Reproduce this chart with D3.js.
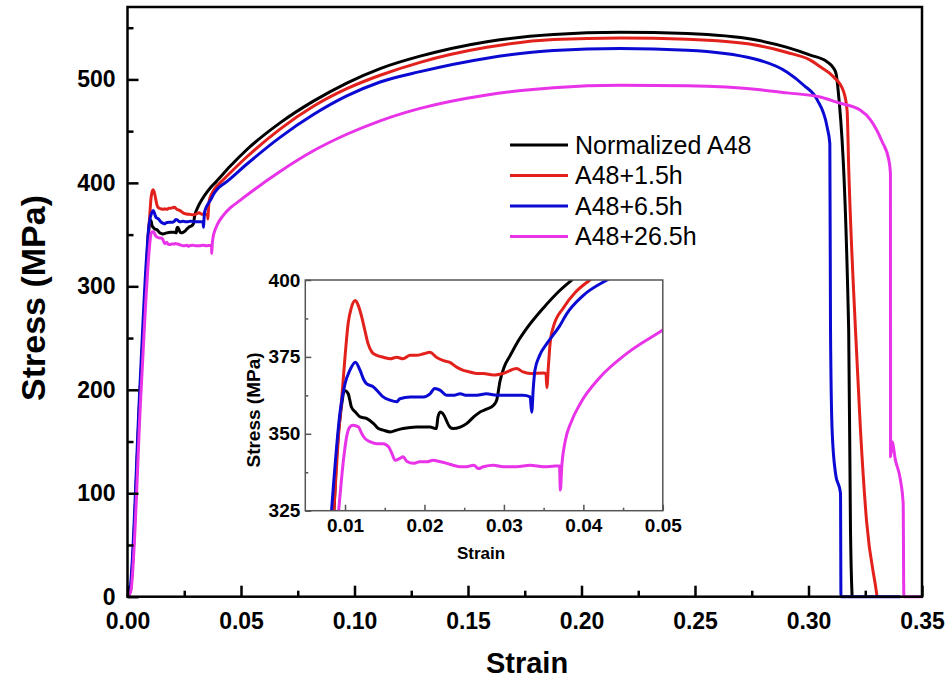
<!DOCTYPE html>
<html lang="en">
<head>
    <meta charset="UTF-8">
    <title>Stress-strain curves</title>
    <script src="https://d3js.org/d3.v7.min.js"></script>
    <style>
    body { margin: 0; background: #fff; }
    svg text { font-family: "Liberation Sans", Arial, sans-serif; }
    </style>
</head>
<body>
    <div id="chart"></div>
    <script>
    // [strain, stress (MPa)]
    var normalized = [[0,0],[0.0012,5],[0.0056,200],[0.0086,325],[0.0090,345],[0.0095,358],[0.0100,364],[0.0104,363],[0.0106,361],
        [0.0108,358.7],[0.0113,357.1],[0.0119,355.5],[0.0127,355],[0.0136,353.3],[0.0142,351.7],[0.0148,351.2],[0.0157,350.6],
        [0.0165,351.2],[0.0173,351.7],[0.0190,352.2],[0.0207,352.2],[0.0215,351.7],[0.0217,355.5],[0.0220,357.1],[0.0223,356.6],
        [0.0232,352.2],[0.0236,351.7],[0.0245,352.2],[0.0253,353.3],[0.0262,355.5],[0.0270,357.1],[0.0278,358],[0.0287,359.3],
        [0.0291,361],[0.0295,367],[0.0300,371.5],[0.0308,375.5],[0.0316,379.3],[0.0328,384],[0.0350,391],[0.0370,396.5],
        [0.0390,401],[0.0452,416],[0.0525,432],[0.0672,458],[0.0819,479],[0.0966,496.5],[0.1113,510.5],[0.1289,522.5],
        [0.1583,536.5],[0.1877,543.5],[0.2171,545.6],[0.2465,544.3],[0.2759,538.5],[0.2906,531],[0.3008,523.5],[0.3082,517],
        [0.3110,511],[0.3122,505],[0.3129,493],[0.3177,258],[0.3185,64],[0.3192,0]];

    var h1_5 = [[0,0],[0.0012,5],[0.0056,200],[0.0086,325],[0.0092,350],[0.0096,362],[0.0100,375],[0.0104,386],[0.0108,391],
        [0.0113,393.3],[0.0117,391.5],[0.0121,388],[0.0125,383.6],[0.0129,379.3],[0.0134,376.5],[0.0140,375.5],[0.0148,374.9],
        [0.0157,374.4],[0.0165,374.9],[0.0173,374.4],[0.0182,375.5],[0.0190,375.5],[0.0199,376],[0.0207,376.5],[0.0215,374.9],
        [0.0224,373.8],[0.0232,373.2],[0.0241,371.6],[0.0249,370.6],[0.0257,370.1],[0.0266,369.6],[0.0274,369.6],[0.0287,369.1],
        [0.0299,369.6],[0.0316,371.2],[0.0324,370.1],[0.0333,369.6],[0.0350,369.8],[0.0353,369.5],[0.0354,365],[0.0356,372],
        [0.0358,379],[0.0362,384.6],[0.0375,391],[0.0390,396],[0.0408,400],[0.0525,425],[0.0672,452],[0.0819,474],[0.0966,491],
        [0.1113,504],[0.1289,516.5],[0.1583,531],[0.1877,538.6],[0.2171,540.1],[0.2465,538.8],[0.2759,533.5],[0.2906,526],
        [0.3008,518.6],[0.3053,512],[0.3111,502.4],[0.3155,488],[0.3170,470],[0.3177,415.5],[0.3207,257.7],[0.3229,161],
        [0.3256,72.5],[0.3299,4.8],[0.3302,0]];

    var h6_5 = [[0,0],[0.0010,5],[0.0054,200],[0.0083,325],[0.0094,357.6],[0.0100,366.3],[0.0106,370.6],[0.0113,373.3],
        [0.0119,370.6],[0.0123,367.9],[0.0127,366.3],[0.0136,365.2],[0.0142,363.6],[0.0148,362],[0.0157,360.9],[0.0165,360.4],
        [0.0169,361.4],[0.0182,362],[0.0190,362],[0.0199,362],[0.0207,363],[0.0213,364.7],[0.0220,364.1],[0.0228,362.5],
        [0.0236,362.5],[0.0245,363],[0.0253,362.5],[0.0266,362.5],[0.0278,363],[0.0291,362.5],[0.0303,362.5],[0.0316,362.5],
        [0.0324,362.5],[0.0333,362],[0.0335,357],[0.0337,365],[0.0339,370.6],[0.0345,375.5],[0.0354,379.3],[0.0370,385],
        [0.0379,389],[0.0400,395],[0.0436,401],[0.0525,418],[0.0672,444],[0.0819,466],[0.0966,484],[0.1113,497.5],[0.1289,507.5],
        [0.1583,520.5],[0.1877,528],[0.2171,529.9],[0.2465,528.2],[0.2759,520],[0.2906,507],[0.2979,494.4],[0.3038,480.4],
        [0.3082,454],[0.3094,438],[0.3097,258],[0.3104,161],[0.3119,119.2],[0.3141,99.9],[0.3143,0],[0.3405,0]];

    var h26_5 = [[0,0],[0.0014,5],[0.0060,200],[0.0092,325],[0.0098,341.4],[0.0102,349],[0.0106,352.2],[0.0110,352.8],
        [0.0117,352.2],[0.0121,350.1],[0.0125,348.5],[0.0132,347.4],[0.0140,346.8],[0.0148,346.8],[0.0155,345.7],[0.0159,343.6],
        [0.0163,341.4],[0.0169,342],[0.0173,342.5],[0.0178,341],[0.0186,340.4],[0.0194,340.9],[0.0203,340.9],[0.0211,341.4],
        [0.0220,340.9],[0.0228,340.4],[0.0236,339.8],[0.0245,339.3],[0.0253,339.3],[0.0262,339.8],[0.0268,338.7],[0.0274,339.3],
        [0.0287,339.8],[0.0299,339.3],[0.0316,339.3],[0.0333,339.8],[0.0350,339.3],[0.0365,339.5],[0.0370,339.5],[0.0371,331.7],
        [0.0373,340],[0.0377,347.4],[0.0385,354],[0.0396,359.8],[0.0421,368.4],[0.0454,376],[0.0499,383.6],[0.0525,388],
        [0.0672,411],[0.0819,431],[0.0966,447],[0.1113,460],[0.1289,472],[0.1583,485],[0.1877,492],[0.2171,494.4],
        [0.2465,493.8],[0.2788,490],[0.2906,487],[0.3052,483],[0.3130,477.5],[0.3229,470.2],[0.3273,461],[0.3324,440],
        [0.3354,422],[0.3361,409],[0.33615,135.3],[0.3368,149.8],[0.3383,132],[0.3405,112.8],[0.3417,90.2],[0.3420,0],[0.3503,0]];

    var seriesNames = ["Normalized A48", "A48+1.5h", "A48+6.5h", "A48+26.5h"];
    var seriesData = [normalized, h1_5, h6_5, h26_5];
    var seriesColors = ["#000000", "#e2211c", "#0a0ad2", "#e833e8"];

    var mainXTicks = [0, 0.05, 0.10, 0.15, 0.20, 0.25, 0.30, 0.35];
    var mainXMinor = [0.025, 0.075, 0.125, 0.175, 0.225, 0.275, 0.325];
    var mainYTicks = [0, 100, 200, 300, 400, 500];
    var mainYMinor = [50, 150, 250, 350, 450, 550];
    var insetXTicks = [0.01, 0.02, 0.03, 0.04, 0.05];
    var insetXMinor = [0.015, 0.025, 0.035, 0.045];
    var insetYTicks = [325, 350, 375, 400];
    var insetYMinor = [337.5, 362.5, 387.5];

    var svg = d3.select("#chart").append("svg")
        .attr("width", 948)
        .attr("height", 684);

    // ---- main plot ----
    var x = d3.scaleLinear().domain([0, 0.35]).range([127.5, 922]);
    var y = d3.scaleLinear().domain([0, 570]).range([596.7, 7]);

    var line = d3.line()
        .x(d => x(d[0]))
        .y(d => y(d[1]))
        .curve(d3.curveMonotoneX);

    svg.append("g")
        .selectAll("path")
        .data(seriesData)
        .enter()
        .append("path")
        .attr("d", line)
        .attr("fill", "none")
        .attr("stroke", (d, i) => seriesColors[i])
        .attr("stroke-width", 3)
        .attr("stroke-linejoin", "round");

    function styleAxis(g, size) {
        g.select(".domain").remove();
        g.selectAll("line").attr("stroke", "#000").attr("stroke-width", 2.5);
        g.selectAll("text")
            .attr("fill", "#000")
            .style("font-size", size + "px")
            .style("font-weight", "bold");
    }

    svg.append("g")
        .attr("transform", "translate(0,596.7)")
        .call(d3.axisBottom(x).tickValues(mainXTicks).tickFormat(d3.format(".2f"))
            .tickSize(-11).tickPadding(16))
        .call(g => styleAxis(g, 23));
    svg.append("g")
        .attr("transform", "translate(0,596.7)")
        .call(d3.axisBottom(x).tickValues(mainXMinor).tickFormat("").tickSize(-6))
        .call(g => styleAxis(g, 23));
    svg.append("g")
        .attr("transform", "translate(127.5,0)")
        .call(d3.axisLeft(y).tickValues(mainYTicks).tickFormat(d3.format("d"))
            .tickSize(-11).tickPadding(12))
        .call(g => styleAxis(g, 23));
    svg.append("g")
        .attr("transform", "translate(127.5,0)")
        .call(d3.axisLeft(y).tickValues(mainYMinor).tickFormat("").tickSize(-6))
        .call(g => styleAxis(g, 23));

    svg.append("rect")
        .attr("x", 127.5).attr("y", 7)
        .attr("width", 922 - 127.5).attr("height", 596.7 - 7)
        .attr("fill", "none")
        .attr("stroke", "#000")
        .attr("stroke-width", 2.5);

    svg.append("text")
        .attr("x", 527).attr("y", 673)
        .attr("text-anchor", "middle")
        .style("font-size", "29px").style("font-weight", "bold")
        .text("Strain");
    svg.append("text")
        .attr("transform", "translate(45,298) rotate(-90)")
        .attr("text-anchor", "middle")
        .style("font-size", "34px").style("font-weight", "bold")
        .text("Stress (MPa)");

    // legend
    var legend = svg.append("g")
        .selectAll("g")
        .data(seriesNames)
        .enter()
        .append("g")
        .attr("transform", (d, i) => "translate(510," + (145 + i * 30.5) + ")");
    legend.append("line")
        .attr("x1", 0).attr("x2", 58)
        .attr("stroke", (d, i) => seriesColors[i])
        .attr("stroke-width", 3);
    legend.append("text")
        .attr("x", 65).attr("y", 8.5)
        .style("font-size", "25px")
        .text(d => d);

    // ---- inset ----
    var xi = d3.scaleLinear().domain([0.005, 0.05]).range([305.3, 662.8]);
    var yi = d3.scaleLinear().domain([325, 400]).range([510.7, 280]);

    svg.append("defs").append("clipPath")
        .attr("id", "insetClip")
        .append("rect")
        .attr("x", 305.3).attr("y", 280)
        .attr("width", 662.8 - 305.3).attr("height", 510.7 - 280);

    svg.append("rect")
        .attr("x", 305.3).attr("y", 280)
        .attr("width", 662.8 - 305.3).attr("height", 510.7 - 280)
        .attr("fill", "#fff");

    var lineInset = d3.line()
        .x(d => xi(d[0]))
        .y(d => yi(d[1]))
        .curve(d3.curveMonotoneX);

    svg.append("g")
        .attr("clip-path", "url(#insetClip)")
        .selectAll("path")
        .data(seriesData)
        .enter()
        .append("path")
        .attr("d", d => lineInset(d.filter(p => p[0] < 0.06)))
        .attr("fill", "none")
        .attr("stroke", (d, i) => seriesColors[i])
        .attr("stroke-width", 3)
        .attr("stroke-linejoin", "round");

    function styleInset(g) {
        g.select(".domain").remove();
        g.selectAll("line").attr("stroke", "#555").attr("stroke-width", 1.5);
        g.selectAll("text")
            .attr("fill", "#000")
            .style("font-size", "19px")
            .style("font-weight", "bold");
    }

    svg.append("g")
        .attr("transform", "translate(0,510.7)")
        .call(d3.axisBottom(xi).tickValues(insetXTicks).tickFormat(d3.format(".2f"))
            .tickSize(-6).tickPadding(8))
        .call(styleInset);
    svg.append("g")
        .attr("transform", "translate(0,510.7)")
        .call(d3.axisBottom(xi).tickValues(insetXMinor).tickFormat("").tickSize(-3))
        .call(styleInset);
    svg.append("g")
        .attr("transform", "translate(305.3,0)")
        .call(d3.axisLeft(yi).tickValues(insetYTicks).tickFormat(d3.format("d"))
            .tickSize(-6).tickPadding(5))
        .call(styleInset);
    svg.append("g")
        .attr("transform", "translate(305.3,0)")
        .call(d3.axisLeft(yi).tickValues(insetYMinor).tickFormat("").tickSize(-3))
        .call(styleInset);

    svg.append("rect")
        .attr("x", 305.3).attr("y", 280)
        .attr("width", 662.8 - 305.3).attr("height", 510.7 - 280)
        .attr("fill", "none")
        .attr("stroke", "#555")
        .attr("stroke-width", 1.5);

    svg.append("text")
        .attr("x", 481).attr("y", 559)
        .attr("text-anchor", "middle")
        .style("font-size", "17px").style("font-weight", "bold")
        .text("Strain");
    svg.append("text")
        .attr("transform", "translate(260,410) rotate(-90)")
        .attr("text-anchor", "middle")
        .style("font-size", "19px").style("font-weight", "bold")
        .text("Stress (MPa)");
    </script>
</body>
</html>
